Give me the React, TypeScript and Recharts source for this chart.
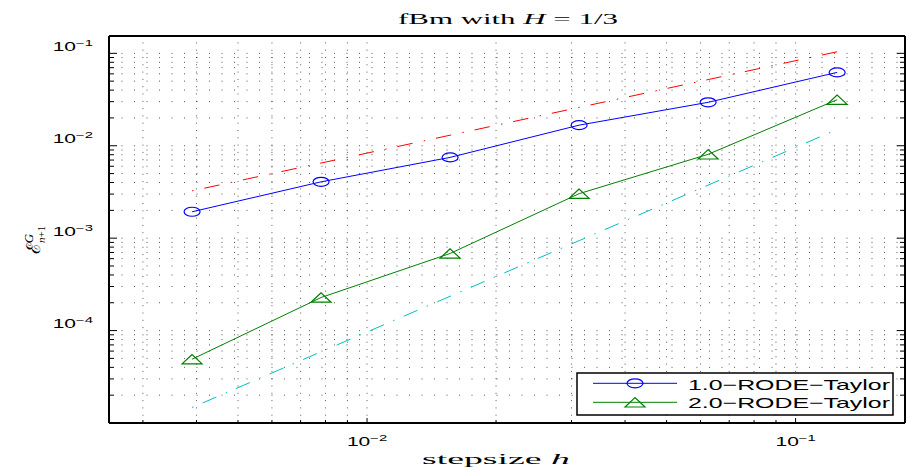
import React from "react";
import { Line, LineChart, ReferenceLine, XAxis, YAxis } from "recharts";

// step sizes h and the error values
const stepsizes = [0.00390625, 0.0078125, 0.015625, 0.03125, 0.0625, 0.125];
const taylor1Errors = [1.93e-3, 4.07e-3, 7.48e-3, 1.67e-2, 2.95e-2, 6.22e-2];
const taylor2Errors = [4.9e-5, 2.28e-4, 6.83e-4, 3.03e-3, 8.08e-3, 3.15e-2];
const order1Ref = [3.25e-3, 6.5e-3, 1.3e-2, 2.6e-2, 5.2e-2, 1.04e-1];
const order2Ref = [1.47e-5, 5.9e-5, 2.35e-4, 9.4e-4, 3.75e-3, 1.5e-2];

const seriesNames = ["1.0\u2212RODE\u2212Taylor", "2.0\u2212RODE\u2212Taylor"];

const xDomain: [number, number] = [0.0025, 0.18];
const yDomain: [number, number] = [1e-5, 0.154];
const xDecades = [1e-3, 1e-2, 1e-1];
const yDecades = [1e-5, 1e-4, 1e-3, 1e-2, 1e-1];
const mantissas = [1, 2, 3, 4, 5, 6, 7, 8, 9];

const logTicks = (decades: number[], [lo, hi]: [number, number]) =>
  decades
    .flatMap((d) => mantissas.map((m) => +(m * d).toPrecision(3)))
    .filter((v) => v > lo * 1.0001 && v < hi * 0.9999);

const xTicks = logTicks(xDecades, xDomain);
const yTicks = logTicks(yDecades, yDomain);

const data = stepsizes.map((h, i) => ({
  h,
  t1: taylor1Errors[i],
  t2: taylor2Errors[i],
  r1: order1Ref[i],
  r2: order2Ref[i],
}));

const isDecade = (v: number) =>
  Math.abs(Math.log10(v) - Math.round(Math.log10(v))) < 1e-6;

const LABEL_FONT = "'Liberation Sans', Arial, sans-serif";
const SERIF = "'Liberation Serif', 'Times New Roman', serif";
const frame = { stroke: "#000", strokeWidth: 2 };

const PowerLabel = ({ x, y, v, anchor }: any) => (
  <g transform={`translate(${x},${y}) scale(1.75,1)`}>
    <text textAnchor={anchor} fontFamily={LABEL_FONT} fontSize={12} fill="#000">
      10
      <tspan dy={-5} fontSize={8.5}>
        {"\u2212" + Math.abs(Math.round(Math.log10(v)))}
      </tspan>
    </text>
  </g>
);

const BottomTick = ({ x, y, payload }: any) => {
  const major = isDecade(payload.value);
  return (
    <g>
      <line x1={x} x2={x} y1={y} y2={y - (major ? 5 : 3)} stroke="#000" />
      {major && <PowerLabel x={x} y={y + 23} v={payload.value} anchor="middle" />}
    </g>
  );
};

const TopTick = ({ x, y, payload }: any) => {
  const major = isDecade(payload.value);
  return <line x1={x} x2={x} y1={y} y2={y + (major ? 5 : 3)} stroke="#000" />;
};

const LeftTick = ({ x, y, payload }: any) => {
  const major = isDecade(payload.value);
  return (
    <g>
      <line x1={x} x2={x + (major ? 8 : 5)} y1={y} y2={y} stroke="#000" />
      {major && <PowerLabel x={x - 16} y={y - 2.5} v={payload.value} anchor="end" />}
    </g>
  );
};

const RightTick = ({ x, y, payload }: any) => {
  const major = isDecade(payload.value);
  return <line x1={x} x2={x - (major ? 8 : 5)} y1={y} y2={y} stroke="#000" />;
};

const Circle = ({ cx, cy, stroke }: any) => (
  <ellipse cx={cx} cy={cy} rx={8} ry={4.5} fill="none" stroke={stroke} strokeWidth={1.2} />
);

const Triangle = ({ cx, cy, stroke }: any) => (
  <polygon
    points={`${cx},${cy - 4.7} ${cx - 10},${cy + 4.7} ${cx + 10},${cy + 4.7}`}
    fill="none"
    stroke={stroke}
    strokeWidth={1.2}
  />
);

const App = () => {
  return (
    <div style={{ position: "absolute", left: 0, top: 0, width: 907, height: 471, background: "#fff" }}>
      <LineChart width={907} height={471} data={data} margin={{ top: 35, right: 1, bottom: 0, left: 0 }}>
        {xTicks.map((v) => (
          <ReferenceLine key={`gx${v}`} x={v} stroke="#000" strokeOpacity={0.65} strokeDasharray="1 6.3" />
        ))}
        {yTicks.map((v) => (
          <ReferenceLine key={`gy${v}`} y={v} stroke="#000" strokeOpacity={0.65} strokeDasharray="1 11.5" />
        ))}
        <XAxis
          dataKey="h"
          type="number"
          scale="log"
          domain={xDomain}
          allowDataOverflow
          ticks={xTicks}
          interval={0}
          tick={<BottomTick />}
          tickLine={false}
          tickSize={0}
          tickMargin={0}
          height={48}
          axisLine={frame}
        />
        <XAxis
          xAxisId="top"
          orientation="top"
          type="number"
          scale="log"
          domain={xDomain}
          allowDataOverflow
          ticks={xTicks}
          interval={0}
          tick={<TopTick />}
          tickLine={false}
          tickSize={0}
          tickMargin={0}
          height={1}
          axisLine={frame}
        />
        <YAxis
          type="number"
          scale="log"
          domain={yDomain}
          allowDataOverflow
          ticks={yTicks}
          interval={0}
          tick={<LeftTick />}
          tickLine={false}
          tickSize={0}
          tickMargin={0}
          width={109}
          axisLine={frame}
        />
        <YAxis
          yAxisId="right"
          orientation="right"
          type="number"
          scale="log"
          domain={yDomain}
          allowDataOverflow
          ticks={yTicks}
          interval={0}
          tick={<RightTick />}
          tickLine={false}
          tickSize={0}
          tickMargin={0}
          width={1}
          axisLine={frame}
        />
        <Line
          dataKey="r1"
          type="linear"
          stroke="#ff0000"
          strokeWidth={1}
          strokeDasharray="1.5 11 15.5 11.5"
          dot={false}
          isAnimationActive={false}
        />
        <Line
          dataKey="r2"
          type="linear"
          stroke="#00bfbf"
          strokeWidth={1}
          strokeDasharray="1.5 10 15 10"
          dot={false}
          isAnimationActive={false}
        />
        <Line
          dataKey="t1"
          type="linear"
          stroke="#0000ff"
          strokeWidth={1}
          dot={(p: any) => <Circle key={`c${p.index}`} {...p} />}
          isAnimationActive={false}
        />
        <Line
          dataKey="t2"
          type="linear"
          stroke="#008000"
          strokeWidth={1}
          dot={(p: any) => <Triangle key={`t${p.index}`} {...p} />}
          isAnimationActive={false}
        />
      </LineChart>
      <svg
        width={907}
        height={471}
        style={{ position: "absolute", left: 0, top: 0, pointerEvents: "none" }}
      >
        <text x={398} y={24} fontFamily={SERIF} fontSize={14.5} textLength={220} lengthAdjust="spacingAndGlyphs">
          fBm with <tspan fontStyle="italic">H</tspan> = 1/3
        </text>
        <text x={422} y={464} fontFamily={SERIF} fontSize={14} textLength={148} lengthAdjust="spacingAndGlyphs">
          stepsize <tspan fontStyle="italic">h</tspan>
        </text>
        <text transform="translate(40,240) rotate(-90)" textAnchor="middle" fontFamily={SERIF} fontSize={19}>
          {"\u2130"}
          <tspan dy={-7} fontSize={13} fontStyle="italic">G</tspan>
          <tspan dx={-9} dy={12} fontSize={11} fontStyle="italic">n</tspan>
          <tspan fontSize={11}>+1</tspan>
        </text>
        <rect x={577} y={373} width={316} height={42} fill="#fff" stroke="#000" strokeWidth={1.5} />
        <line x1={593} x2={677} y1={383.3} y2={383.3} stroke="#0000ff" />
        <Circle cx={635} cy={383.3} stroke="#0000ff" />
        <text x={688} y={390} fontFamily={LABEL_FONT} fontSize={15} textLength={202} lengthAdjust="spacingAndGlyphs">
          {seriesNames[0]}
        </text>
        <line x1={593} x2={677} y1={402.3} y2={402.3} stroke="#008000" />
        <Triangle cx={635} cy={402.3} stroke="#008000" />
        <text x={688} y={407.7} fontFamily={LABEL_FONT} fontSize={15} textLength={202} lengthAdjust="spacingAndGlyphs">
          {seriesNames[1]}
        </text>
      </svg>
    </div>
  );
};

export default App;
